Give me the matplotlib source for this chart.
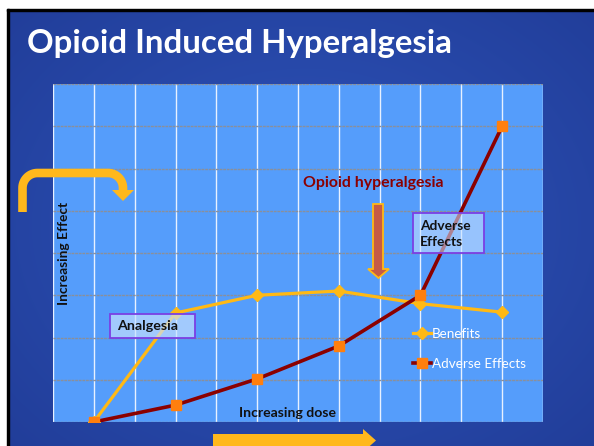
import numpy as np
import matplotlib
matplotlib.use("Agg")
import matplotlib.pyplot as plt
from matplotlib.patches import Rectangle, Polygon

# ---- data ----
doses = [1, 2, 3, 4, 5, 6]
benefits = [0.0, 2.58, 3.0, 3.1, 2.8, 2.6]
adverse = [0.0, 0.4, 1.02, 1.8, 3.0, 7.0]
series_labels = ["Benefits", "Adverse Effects"]
title_text = "Opioid Induced Hyperalgesia"

W, H = 594, 446
fig = plt.figure(figsize=(W / 100, H / 100), dpi=100)
fig.patch.set_facecolor("white")

# ---- slide background (pixel coordinate axes) ----
bg = fig.add_axes([0, 0, 1, 1])
bg.set_xlim(0, W)
bg.set_ylim(H, 0)
bg.axis("off")
yy, xx = np.mgrid[0:H, 0:W]
r = np.sqrt(((xx - 300) / 420.0) ** 2 + ((yy - 220) / 330.0) ** 2)
c0 = np.array([0.18, 0.33, 0.73])
c1 = np.array([0.13, 0.24, 0.60])
t = np.clip(r, 0, 1)[..., None]
img = c0 * (1 - t) + c1 * t
bg.imshow(img, extent=(9, W, H, 10), aspect="auto", zorder=0)
bg.add_patch(Rectangle((7, 9), W, 1.5, color="black", zorder=1))
bg.add_patch(Rectangle((7, 9), 2, H, color="black", zorder=1))

# ---- chart ----
L, R, T, B = 53, 543, 84, 422
ax = fig.add_axes([L / W, 1 - B / H, (R - L) / W, (B - T) / H])
ax.set_facecolor("#559DFB")
ax.set_xlim(0.5, 6.5)
ax.set_ylim(0, 8)
for xv in np.arange(0.5, 6.51, 0.5):
    ax.axvline(xv, color="#E8F1FF", lw=1.0, zorder=1)
for yv in range(0, 9):
    ax.axhline(yv, color="#8A8F9A", lw=1.0, ls=(0, (2, 0.6)), zorder=1)
ax.set_xticks([])
ax.set_yticks([])
for s in ax.spines.values():
    s.set_visible(False)

ax.plot(doses, benefits, color="#FFB915", lw=2.3, marker="D", ms=6.2,
        mfc="#FFB915", mec="#FFB915", zorder=3, label=series_labels[0])
ax.plot(doses, adverse, color="#8B0000", lw=2.6, marker="s", ms=6.8,
        mfc="#FF7F0E", mec="#FF7F0E", zorder=4, label=series_labels[1])

ax.legend(loc="upper left", bbox_to_anchor=((401 - L) / (R - L), 1 - (316 - T) / (B - T)),
          frameon=False, labelcolor="white", handlelength=1.3, handletextpad=0.1,
          labelspacing=1.3, prop={"family": "Lato", "size": 9.7})

# ---- overlay for annotations (pixel coordinates) ----
ov = fig.add_axes([0, 0, 1, 1])
ov.set_xlim(0, W)
ov.set_ylim(H, 0)
ov.axis("off")
ov.patch.set_alpha(0)

fig.canvas.draw()
rend = fig.canvas.get_renderer()


def fit(txt, target, horizontal=True):
    ext = txt.get_window_extent(rend)
    size = ext.width if horizontal else ext.height
    txt.set_fontsize(txt.get_fontsize() * target / size)


t1 = ov.text(64, 253, "Increasing Effect", rotation=90, ha="center", va="center",
             fontsize=10, fontweight="bold", family="Lato", color="#111111", zorder=5)
fit(t1, 103, horizontal=False)
t2 = ov.text(287.5, 413, "Increasing dose", ha="center", va="center",
             fontsize=10, fontweight="bold", family="Lato", color="#111111", zorder=5)
fit(t2, 97)
t3 = ov.text(373, 183, "Opioid hyperalgesia", ha="center", va="center",
             fontsize=11, fontweight="bold", family="Lato", color="#8B0000", zorder=5)
fit(t3, 140)

# down arrow
ov.add_patch(Polygon([(373, 204), (383, 204), (383, 269), (389, 269), (378.5, 278),
                      (368, 269), (373, 269)], closed=True, fc="#C65B45", ec="#FFB915",
                     lw=1.3, zorder=5))

# boxes
ov.add_patch(Rectangle((110, 314), 85, 24, fc=(0.78, 0.88, 1.0, 0.68), ec="#7B3FE4",
                       lw=1.3, zorder=6))
t4 = ov.text(117, 326.5, "Analgesia", ha="left", va="center", fontsize=10,
             fontweight="bold", family="Lato", color="#111111", zorder=7)
fit(t4, 61)
ov.add_patch(Rectangle((413, 213), 71, 40, fc=(0.78, 0.88, 1.0, 0.58), ec="#7B3FE4",
                       lw=1.3, zorder=6))
t5 = ov.text(420, 234, "Adverse\nEffects", ha="left", va="center", fontsize=10,
             fontweight="bold", family="Lato", color="#111111", zorder=7, linespacing=1.5)
fit(t5, 51)

# bent arrow at left
pts = [(22.5, 212), (22.5, 188)]
for a in np.linspace(0, np.pi / 2, 20):
    pts.append((37.5 - 15 * np.cos(a), 188 - 15 * np.sin(a)))
pts.append((108, 173))
for a in np.linspace(0, np.pi / 2, 20):
    pts.append((108 + 15 * np.sin(a), 188 - 15 * np.cos(a)))
pts.append((123, 191))
p = np.array(pts)
ov.plot(p[:, 0], p[:, 1], color="#FFB81C", lw=6.2, solid_capstyle="butt",
        solid_joinstyle="round", zorder=8)
ov.add_patch(Polygon([(112, 190), (134, 190), (123, 201)], closed=True,
                     fc="#FFB81C", ec="none", zorder=8))

# bottom arrow
ov.add_patch(Polygon([(213, 434), (363, 434), (363, 429), (376, 440.5), (363, 452),
                      (363, 447), (213, 447)], closed=True, fc="#FFB81C", ec="none", zorder=8))

# ---- title fitted to width ----
tt = ov.text(27, 43, title_text, ha="left", va="center", color="white",
             fontweight="bold", family="Lato", fontsize=26, zorder=9)
fit(tt, 426)

fig.savefig("out.png", dpi=100, facecolor=fig.get_facecolor())
